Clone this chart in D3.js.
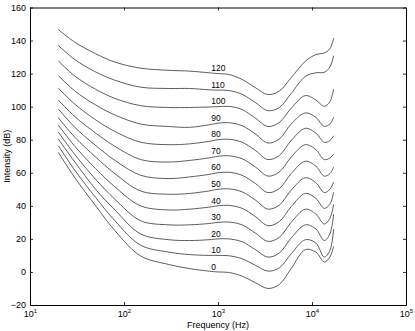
<!DOCTYPE html>
<html>
<head>
<meta charset="utf-8">
<script src="https://cdn.jsdelivr.net/npm/d3@7"></script>
<style>
body { margin: 0; background: #fff; }
svg { display: block; }
text { font-family: "Liberation Sans", Arial, Helvetica, sans-serif; }
</style>
</head>
<body>
<svg id="chart" width="415" height="331"></svg>
<script>
// Frequencies (Hz) at which each contour is sampled
const freqs = [20, 30, 50, 80, 150, 300, 500, 800, 1000, 1300, 1800, 2500, 3400, 4500, 6000, 8500, 11000, 13500, 15500, 17000];
// Loudness levels (phon) for contour labels
const phons = [0, 10, 20, 30, 40, 50, 60, 70, 80, 90, 100, 110, 120];
// Sound pressure level (dB) of each contour at the frequencies above
const c0   = [72.4, 57, 40, 25, 9.7, 4.5, 2, 0.5, 0, -0.3, -2.5, -6.5, -10, -7.5, 2, 13.5, 12, 6, 9, 15.6];
const c10  = [76.4, 61.5, 45, 31, 16.2, 12, 10.5, 10, 10, 9.8, 8, 4, 0.5, 2.5, 11, 19.5, 17.5, 9, 13, 25.9];
const c20  = [80.4, 66.5, 50, 37.5, 23, 19.5, 19, 19.5, 20, 20, 18.3, 13.5, 9, 11.5, 20.5, 28.5, 26, 19, 23, 35];
const c30  = [84.6, 71, 56, 44, 31, 28.5, 28.5, 29.3, 30, 30.2, 28.5, 23.5, 18.5, 21, 30, 38, 35, 29, 32.5, 41];
const c40  = [88.9, 76, 62.5, 51.5, 40, 37.5, 38, 39.2, 40, 40.3, 38.5, 33.5, 28, 30.5, 39.5, 47.5, 44.5, 38.5, 41, 48.3];
const c50  = [93.3, 81.5, 69.5, 59.5, 49, 47, 47.5, 49, 50, 50.3, 48.5, 43.5, 38, 40.5, 49.5, 57, 54, 48, 50, 54.4];
const c60  = [98.6, 87.5, 76.5, 67.5, 58.5, 56.5, 57.5, 59, 60, 60.3, 58.5, 53.5, 48, 50.5, 59.5, 67, 64, 58, 59.5, 63.5];
const c70  = [104, 94, 84, 76, 68, 66.5, 67.5, 69, 70, 70.3, 68.5, 63.5, 58, 60.5, 69.5, 77, 74, 68, 69, 71.3];
const c80  = [111.2, 101.5, 92, 85, 78.5, 77, 77.5, 79, 80, 80.3, 78.5, 73.5, 68, 70.5, 79.5, 86.9, 84, 78.4, 79.5, 82.4];
const c90  = [118.8, 109.5, 101, 95, 89.5, 88, 87.5, 89, 90, 90.3, 88.5, 83.5, 78, 80.5, 89.5, 96.2, 93.5, 88.1, 89.5, 93.6];
const c100 = [127.7, 118.5, 110.5, 105, 100.6, 99.5, 99.5, 99.8, 100, 100.2, 98.3, 93, 88, 90.5, 99, 106.7, 104, 100.2, 103, 110.7];
const c110 = [137, 128.5, 121, 116, 111.8, 111, 111, 110.2, 110, 109.8, 107.5, 102.5, 97.6, 99.5, 108, 118.3, 120.5, 120.8, 124, 130.9];
const c120 = [146.7, 139, 132, 127, 123.3, 122, 121.5, 120.5, 120, 119.5, 116.5, 111.5, 107.3, 109.5, 117.5, 127.5, 131.5, 132.5, 135, 141.5];
const curves = [c0, c10, c20, c30, c40, c50, c60, c70, c80, c90, c100, c110, c120];
// Axis ticks
const xTicks = [10, 100, 1000, 10000, 100000];
const yTicks = [-20, 0, 20, 40, 60, 80, 100, 120, 140, 160];
const labelFreq = 1000;

const svg = d3.select("#chart");
const m = { left: 30, right: 9, top: 7.5, bottom: 26 };
const W = 415, H = 331;
const x = d3.scaleLog().domain([10, 100000]).range([m.left, W - m.right]);
const y = d3.scaleLinear().domain([-20, 160]).range([H - m.bottom, m.top]);

const line = d3.line()
  .x((d, i) => x(freqs[i]))
  .y(d => y(d))
  .curve(d3.curveCatmullRom.alpha(0.5));

svg.append("g").selectAll("path").data(curves).join("path")
  .attr("d", line)
  .attr("fill", "none")
  .attr("stroke", "#333")
  .attr("stroke-width", 0.8);

// contour labels
svg.append("g").selectAll("text").data(phons).join("text")
  .attr("x", x(labelFreq) - 6.8)
  .attr("y", d => y(d) - 2.3)
  .attr("font-size", 8.5)
  .attr("fill", "#000")
  .text(d => d);

// axes box with inward ticks
const tickLen = 3;
const axB = d3.axisBottom(x).tickValues(xTicks).tickSizeInner(-tickLen).tickSizeOuter(0).tickFormat("");
const axT = d3.axisTop(x).tickValues(xTicks).tickSizeInner(-tickLen).tickSizeOuter(0).tickFormat("");
const axL = d3.axisLeft(y).tickValues(yTicks).tickSizeInner(-tickLen).tickSizeOuter(0).tickFormat("");
const axR = d3.axisRight(y).tickValues(yTicks).tickSizeInner(-tickLen).tickSizeOuter(0).tickFormat("");
svg.append("g").attr("transform", `translate(0,${H - m.bottom})`).call(axB);
svg.append("g").attr("transform", `translate(0,${m.top})`).call(axT);
svg.append("g").attr("transform", `translate(${m.left},0)`).call(axL);
svg.append("g").attr("transform", `translate(${W - m.right},0)`).call(axR);
svg.selectAll(".domain").attr("stroke", "#000").attr("stroke-width", 1);
svg.selectAll(".tick line").attr("stroke", "#000").attr("stroke-width", 0.8);

// y tick labels
svg.append("g").selectAll("text").data(yTicks).join("text")
  .attr("x", m.left - 4)
  .attr("y", d => y(d) + 3.2)
  .attr("text-anchor", "end")
  .attr("font-size", 9)
  .text(d => d < 0 ? "\u2212" + Math.abs(d) : d);

// x tick labels 10^n
const xl = svg.append("g").selectAll("text").data(xTicks).join("text")
  .attr("x", d => x(d) + 0.5)
  .attr("y", H - m.bottom + 12)
  .attr("text-anchor", "middle")
  .attr("font-size", 9);
xl.append("tspan").text("10");
xl.append("tspan").attr("dy", -4).attr("font-size", 6).text(d => Math.round(Math.log10(d)));

// axis titles
svg.append("text")
  .attr("x", (m.left + W - m.right) / 2)
  .attr("y", H - 3)
  .attr("text-anchor", "middle")
  .attr("font-size", 9)
  .text("Frequency (Hz)");
svg.append("text")
  .attr("transform", `translate(9.5,${(m.top + H - m.bottom) / 2}) rotate(-90)`)
  .attr("text-anchor", "middle")
  .attr("font-size", 9)
  .text("Intensity (dB)");
</script>
</body>
</html>
